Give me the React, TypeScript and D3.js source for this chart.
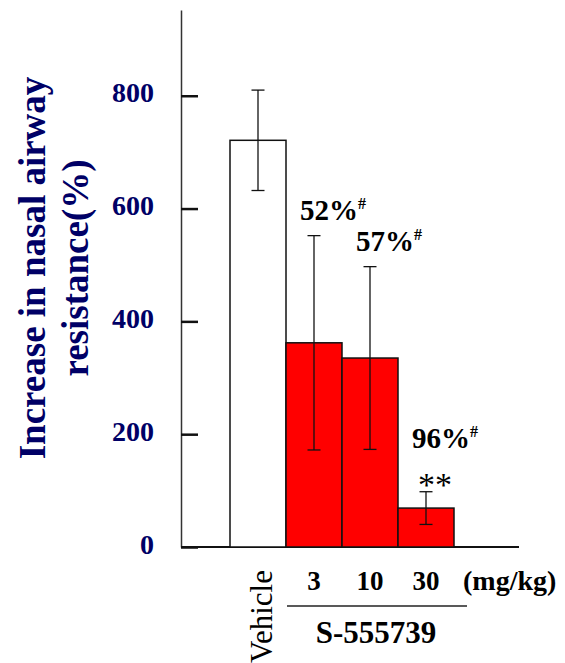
import { useEffect, useRef } from 'react';
import * as d3 from 'd3';

const categories = ['Vehicle', '3', '10', '30'];
const means = [721, 362, 335, 69];
const errors = [89, 190, 162, 29];
const inhibition = ['', '52%', '57%', '96%'];
const significance = ['', '', '', '**'];
const yTicks = [0, 200, 400, 600, 800];

const width = 565;
const height = 663;
const axisX = 181;
const navy = '#000066';
const serif = '"Liberation Serif", "Times New Roman", serif';

const App = () => {
    const svgRef = useRef<SVGSVGElement>(null);

    useEffect(() => {
        const svg = d3.select(svgRef.current);
        svg.selectAll('*').remove();
        svg.attr('width', width).attr('height', height);

        const y = d3.scaleLinear().domain([0, 952]).range([547, 10]);
        const x = d3.scaleBand().domain(categories).range([230, 454]).padding(0);

        // y axis: ticks point inward, labels on the left
        const yAxis = svg
            .append('g')
            .attr('transform', `translate(${axisX},0)`)
            .call(
                d3
                    .axisLeft(y)
                    .tickValues(yTicks)
                    .tickSizeInner(-17)
                    .tickSizeOuter(0)
                    .tickPadding(27)
                    .tickFormat(d3.format('d'))
            );
        yAxis.select('.domain').attr('stroke', '#333').attr('stroke-width', 1.5);
        yAxis.selectAll('.tick line').attr('stroke', '#111').attr('stroke-width', 2.5);
        yAxis
            .selectAll('.tick text')
            .attr('fill', navy)
            .attr('dy', '0.22em')
            .style('font-family', serif)
            .style('font-size', '28px')
            .style('font-weight', 'bold');

        // x baseline
        svg.append('line')
            .attr('x1', axisX)
            .attr('x2', 519)
            .attr('y1', y(0))
            .attr('y2', y(0))
            .attr('stroke', '#111')
            .attr('stroke-width', 2);

        const data = categories.map((c, i) => ({
            cat: c,
            mean: means[i],
            err: errors[i],
            pct: inhibition[i],
            sig: significance[i],
        }));

        // bars
        svg.selectAll('.bar')
            .data(data)
            .join('rect')
            .attr('class', 'bar')
            .attr('x', d => x(d.cat) ?? 0)
            .attr('y', d => y(d.mean))
            .attr('width', x.bandwidth())
            .attr('height', d => y(0) - y(d.mean))
            .attr('fill', d => (d.cat === 'Vehicle' ? '#ffffff' : '#ff0000'))
            .attr('stroke', '#111')
            .attr('stroke-width', 1.5);

        // error bars
        const eb = svg.selectAll('.err').data(data).join('g').attr('class', 'err');
        const cx = (d: any) => (x(d.cat) ?? 0) + x.bandwidth() / 2;
        eb.append('line')
            .attr('x1', cx)
            .attr('x2', cx)
            .attr('y1', d => y(d.mean + d.err))
            .attr('y2', d => y(d.mean - d.err))
            .attr('stroke', '#111')
            .attr('stroke-width', 1.3);
        [1, -1].forEach(s => {
            eb.append('line')
                .attr('x1', d => cx(d) - 6.5)
                .attr('x2', d => cx(d) + 6.5)
                .attr('y1', d => y(d.mean + s * d.err))
                .attr('y2', d => y(d.mean + s * d.err))
                .attr('stroke', '#111')
                .attr('stroke-width', 1.3);
        });

        // inhibition labels
        const ann = data.filter(d => d.pct);
        const pct = svg
            .selectAll('.pct')
            .data(ann)
            .join('text')
            .attr('class', 'pct')
            .attr('x', d => (x(d.cat) ?? 0) + 14)
            .attr('y', d => y(d.mean + d.err) - (d.sig ? 44 : 16))
            .style('font-family', serif)
            .style('font-size', '29px')
            .style('font-weight', 'bold');
        pct.append('tspan').text(d => d.pct);
        pct.append('tspan')
            .attr('dy', -11)
            .style('font-size', '16px')
            .text('#');

        svg.selectAll('.sig')
            .data(ann.filter(d => d.sig))
            .join('text')
            .attr('class', 'sig')
            .attr('x', d => cx(d) + 9)
            .attr('y', d => y(d.mean + d.err) + 4)
            .attr('text-anchor', 'middle')
            .style('font-family', serif)
            .style('font-size', '34px')
            .text(d => d.sig);

        // x category labels
        svg.append('text')
            .attr('transform', `translate(${cx(data[0]) + 14},570) rotate(-90)`)
            .attr('text-anchor', 'end')
            .style('font-family', serif)
            .style('font-size', '31px')
            .text(categories[0]);

        svg.selectAll('.dose')
            .data(data.slice(1))
            .join('text')
            .attr('class', 'dose')
            .attr('x', d => cx(d))
            .attr('y', 590)
            .attr('text-anchor', 'middle')
            .style('font-family', serif)
            .style('font-size', '27px')
            .style('font-weight', 'bold')
            .text(d => d.cat);

        svg.append('text')
            .attr('x', 463)
            .attr('y', 590)
            .style('font-family', serif)
            .style('font-size', '28px')
            .style('font-weight', 'bold')
            .text('(mg/kg)');

        svg.append('line')
            .attr('x1', 287)
            .attr('x2', 467)
            .attr('y1', 606)
            .attr('y2', 606)
            .attr('stroke', '#222')
            .attr('stroke-width', 1.3);

        svg.append('text')
            .attr('x', 376)
            .attr('y', 643)
            .attr('text-anchor', 'middle')
            .style('font-family', serif)
            .style('font-size', '31px')
            .style('font-weight', 'bold')
            .text('S-555739');

        // y title
        const title = svg
            .append('text')
            .attr('transform', 'translate(0,268) rotate(-90)')
            .attr('text-anchor', 'middle')
            .attr('fill', navy)
            .style('font-family', serif)
            .style('font-size', '37px')
            .style('font-weight', 'bold');
        title.append('tspan').attr('x', 0).attr('y', 45).text('Increase in nasal airway');
        title.append('tspan').attr('x', 0).attr('y', 88).text('resistance(%)');
    }, []);

    return (
        <svg
            ref={svgRef}
            style={{ position: 'absolute', left: 0, top: 0, background: '#fff' }}
        ></svg>
    );
};

export default App;
